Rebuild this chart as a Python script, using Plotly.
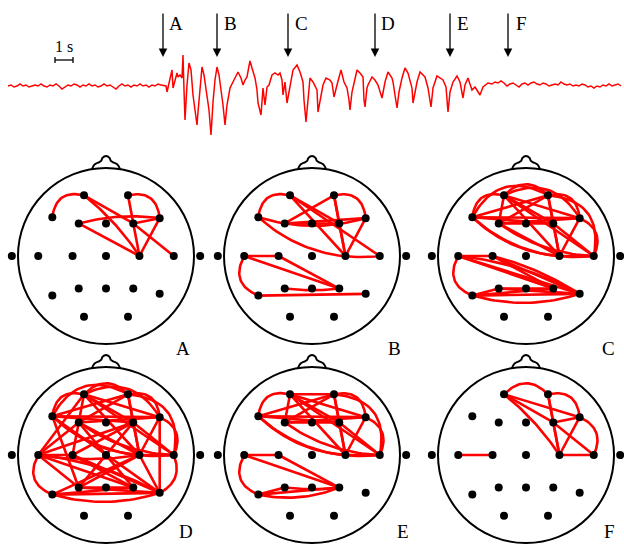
import re
import numpy as np
import plotly.graph_objects as go

# ---------------- DATA ----------------
FS = 18  # digitised samples per second of the EEG trace

eeg_n = [0, 3, 6, 9, 12, 15, 18, 21, 24, 27, 30, 33, 36, 39, 42, 45, 48, 51, 54, 57,
         60, 63, 66, 69, 72, 75, 78, 81, 84, 87, 90, 93, 96, 99, 102, 105, 108, 111, 114, 117,
         120, 123, 126, 129, 132, 135, 138, 141, 144, 147, 150, 153, 156,
         158, 159, 161, 164, 165, 166, 167, 169, 170, 172, 174, 175, 176, 177, 179, 181, 183, 185,
         187, 189, 190, 192, 194, 196, 199, 201, 203, 204, 205, 207, 209, 211, 214, 215, 217, 219,
         222, 225, 227, 230, 233, 235, 237, 239, 241, 242, 244, 247, 249, 250, 253, 254, 255, 257,
         259, 261, 264, 267, 270, 272, 274, 275, 277, 279, 282, 285, 289, 292, 295, 296, 298, 300,
         302, 305, 309, 310, 313, 315, 318, 322, 324, 326, 329, 333, 336, 339, 341, 342, 344, 349,
         352, 355, 356, 357, 359, 360, 364, 367, 370, 374, 377, 380, 384, 385, 387, 389, 391, 394,
         397, 400, 404, 405, 409, 412, 417, 420, 423, 425, 429, 432, 435, 438, 440, 442, 445, 449,
         452, 455, 457, 460, 464, 467, 472, 475, 480,
         484, 487, 490, 493, 496, 499, 502, 505, 508, 511, 514, 517, 520, 523, 526, 529, 532, 535,
         538, 541, 544, 547, 550, 553, 556, 559, 562, 565, 568, 571, 574, 577, 580, 583, 586, 589,
         592, 595, 598, 601, 604, 607, 610, 613]
eeg_amp = [0, 1, -1, 0, 2, 0, 1, -1, 0, 1, 0, 2, 0, -1, 1, 0, 2, 0, -3, -1,
           1, 0, 2, 1, -1, 1, 0, 2, 0, 1, -1, 0, 2, 0, 1, -1, -3, 0, 2, 0,
           1, -1, 1, 0, 2, 0, 1, -1, 1, 0, 2, 1, 0,
           0, -6, 2, 16, -2, 2, 6, 13, 9, 11, 8, 31, -4, -34, 1, 23, 16, -9,
           -24, -39, -26, 1, 19, 11, -12, -24, -49, -32, -16, 6, 19, 11, -9, -19, -39, -19,
           -2, 4, 8, 14, 8, 1, 6, 9, 20, 25, 18, 8, -4, -17, -29, -14, -2, -19,
           -1, 1, 11, 13, 11, 13, 6, -9, 4, -17, 1, 16, 21, 14, 4, -14, -36, -9,
           8, 4, -4, -26, -9, 1, 8, 6, 3, -11, 1, 16, 4, -2, -14, -24, -6, 16,
           13, 9, -14, -21, -2, 1, 9, 6, 1, -12, 4, 14, 8, 4, -9, -22, -6, 8,
           18, 13, -2, -17, 4, 14, 9, -2, -21, -2, 10, 8, 6, -1, -26, -6, 4, 10,
           4, -12, 1, 8, -4, -1, -9, -1, 3,
           2, 4, 3, 5, 3, 0, 2, 3, 1, -1, 2, 3, 1, 3, 4, 2, 1, 3,
           2, 0, 1, 2, 1, 4, 2, 1, 2, 0, 1, 0, 2, 1, -1, 0, -2, 0,
           -1, 1, 0, 2, 0, 1, 2, 0]

snapshot_n = [155, 209, 280, 367, 442, 500]
snapshot_labels = ["A", "B", "C", "D", "E", "F"]
scalebar_n = [47, 65]          # 1 s
scalebar_label = "1 s"

electrode_names = ["Fp1", "Fp2", "F7", "F3", "Fz", "F4", "F8", "A1", "T3", "C3", "Cz",
                   "C4", "T4", "A2", "T5", "P3", "Pz", "P4", "T6", "O1", "O2"]
electrode_x = [-0.25, 0.25, -0.61, -0.31, 0.0, 0.31, 0.61, -1.07, -0.77, -0.38, 0.0,
               0.38, 0.77, 1.07, -0.61, -0.31, 0.0, 0.31, 0.61, -0.25, 0.25]
electrode_y = [0.69, 0.69, 0.44, 0.37, 0.37, 0.37, 0.43, 0.0, 0.0, 0.0, 0.0,
               0.0, 0.0, 0.0, -0.45, -0.37, -0.37, -0.37, -0.43, -0.69, -0.69]

# "-" straight link, "~" curved link
edges_A = ["Fp1~F7", "Fp1-F4", "Fp1~C4", "F4-T4", "F3~F8", "F3-C4", "Fp2-C4", "Fp2~F8",
           "F4-F8", "F8-C4"]
edges_B = ["Fp1~F7", "Fp2~F8", "Fp1-F4", "Fp1-C4", "Fp1-T4", "F3-Fp2", "F3-F8", "F3-F4",
           "Fp2-C4", "Fp2-F4", "F4-C4", "F8-C4", "F7~T4", "F7~F8",
           "T3-C3", "T3-P4", "C3-P4", "T3~T5", "T5-T6", "P3~P4"]
edges_C = ["Fp1~F7", "Fp1~Fp2", "Fp2~F8", "F8~T4", "Fp2~T4", "F7~Fp2", "Fp1~F8", "Fp1-F8",
           "F7-Fp2", "Fp1-F4", "Fp2-F3", "Fp1-F3", "Fp2-F4", "F7-F8", "F7-F4", "F3-F8", "F3-F4",
           "Fp1-C4", "Fp2-C4", "F4-C4", "F8-C4", "F3-C4", "Fp1-T4", "F4-T4", "F7~C4", "F7~T4",
           "F3~T4", "C4-T4",
           "T3-C3", "T3~T5", "T3-P4", "T3~T6", "T3-T6", "C3-P4", "C3~T6", "C3-T6", "T5-T6",
           "T5~T6", "T5-P4", "P3-T6", "P3-P4", "T5-P3"]
edges_D = ["Fp1~F7", "Fp1~Fp2", "Fp2~F8", "F8~T4", "Fp2~T4", "F7~Fp2", "Fp1~F8", "Fp1-F8",
           "F7-Fp2", "Fp1-F4", "Fp2-F3", "Fp1-F3", "Fp2-F4", "F7-F8", "F7-F4", "F3-F8",
           "Fp1-C4", "Fp2-C4", "F4-C4", "F8-C4", "F3-C4", "Fp1-T4", "F4-T4", "F7~C4", "F7~T4",
           "F3~T4", "C4-T4", "T4~T6", "F8-T6", "C4-T6", "Fp1-T3", "T3-F3", "T3-F4", "F7-P3",
           "T3-C3", "T3~T5", "T3-P3", "T3-P4", "T3~T6", "T3~C4", "C3-P4", "C3-T6", "C3-F4",
           "F3-P4", "F4-P3", "C4-P3", "C4-T5", "F7-T6", "T5-T6", "T5~T6", "T5-P4", "P3-T6",
           "P3-P4", "F3-C3"]
edges_E = ["Fp1~F7", "Fp1-Fp2", "Fp2~F8", "F8~T4", "Fp2~T4", "Fp1-F8", "F7-Fp2", "Fp1-F4",
           "Fp2-F3", "Fp1-F3", "Fp2-F4", "F7-F8", "F7-F4", "F3-F8", "F3-F4", "Fp1-C4", "Fp2-C4",
           "F4-C4", "F8-C4", "Fp1-T4", "F4-T4", "F7~C4", "F7~T4", "F3~T4", "C4-T4",
           "T3-C3", "T3~T5", "T3-P4", "C3-P4", "T5-P3", "T5-P4", "T5~P4", "P3~P4"]
edges_F = ["Fp1~Fp2", "Fp1-F4", "Fp1-F8", "Fp1~C4", "Fp2-F4", "Fp2-C4", "Fp2~F8", "F8~T4",
           "F4-F8", "F4-T4", "F8-C4", "F4-C4", "C4-T4", "T3-C3"]
panel_edges = [edges_A, edges_B, edges_C, edges_D, edges_E, edges_F]
panel_labels = ["A", "B", "C", "D", "E", "F"]

# ---------------- STYLE / LAYOUT ----------------
W, H = 624, 554
RED = "#ff0000"
SERIF = "Liberation Serif, Times New Roman, serif"
# curvature of curved links (fraction of link length, + = away from head centre)
BEND = {"Fp1~F7": 0.55, "Fp2~F8": 0.55, "Fp1~Fp2": 0.5, "F8~T4": 0.5, "T3~T5": 0.55,
        "Fp2~T4": 0.55, "F7~Fp2": 0.5, "Fp1~F8": 0.45, "T4~T6": 0.45, "Fp1~C4": 0.08,
        "F3~F8": 0.1, "F7~C4": -0.18, "F7~T4": -0.22, "F3~T4": -0.15, "F7~F8": -0.15,
        "T5~T6": 0.15, "T5~P4": 0.15, "P3~P4": 0.06, "T3~T6": -0.1, "C3~T6": -0.08,
        "T3~C4": -0.08}
TRACE_TOP_PX, TRACE_BOT_PX, BASE_PX = 0, 145, 86
PX_PER_S = 18
T0_PX = 8
HEAD_R = 88
HEAD_CX = [106, 312, 526]
HEAD_CY = [256, 455]
XR = (-1.1, 1.1)
YR = (-1.1, 1.2)
LABEL_PX = [(174, 348), (394, 348), (617, 348), (177, 544), (403, 544), (617, 544)]
ARROW_TIP_PX, ARROW_TAIL_PX, ARROW_LABEL_PX = 57, 12, 23
SCALEBAR_PX, SCALEBAR_TEXT_PX = 60, 46
NOSE = [(-0.16, 0.987), (-0.13, 1.04), (-0.08, 1.065), (-0.055, 1.08), (-0.04, 1.115),
        (0.0, 1.136), (0.04, 1.115), (0.055, 1.08), (0.08, 1.065), (0.13, 1.04), (0.16, 0.987)]

fig = go.Figure()

# ---------- EEG trace ----------
t = np.array(eeg_n) / FS
amp = np.array(eeg_amp, dtype=float)
fig.add_trace(go.Scatter(x=t, y=amp, mode="lines", line=dict(color=RED, width=1.5),
                         hoverinfo="skip", xaxis="x", yaxis="y"))
fig.update_layout(
    xaxis=dict(domain=[0, 1], range=[(0 - T0_PX) / PX_PER_S, (W - T0_PX) / PX_PER_S],
               visible=False, fixedrange=True),
    yaxis=dict(domain=[1 - TRACE_BOT_PX / H, 1 - TRACE_TOP_PX / H],
               range=[BASE_PX - TRACE_BOT_PX, BASE_PX - TRACE_TOP_PX],
               visible=False, fixedrange=True),
)

def px2amp(py):
    return BASE_PX - py

for n, lab in zip(snapshot_n, snapshot_labels):
    ts = n / FS
    fig.add_annotation(x=ts, y=px2amp(ARROW_TIP_PX), ax=ts, ay=px2amp(ARROW_TAIL_PX),
                       xref="x", yref="y", axref="x", ayref="y", text="", showarrow=True,
                       arrowhead=2, arrowsize=1.3, arrowwidth=1.3, arrowcolor="black")
    fig.add_annotation(x=ts, y=px2amp(ARROW_LABEL_PX), xref="x", yref="y", text=lab,
                       showarrow=False, xshift=13, font=dict(family=SERIF, size=19, color="black"))

# scale bar
s0, s1 = scalebar_n[0] / FS, scalebar_n[1] / FS
yb = px2amp(SCALEBAR_PX)
fig.add_trace(go.Scatter(x=[s0, s0, None, s0, s1, None, s1, s1],
                         y=[yb - 3, yb + 3, None, yb, yb, None, yb - 3, yb + 3],
                         mode="lines", line=dict(color="black", width=1.3),
                         hoverinfo="skip", xaxis="x", yaxis="y"))
fig.add_annotation(x=(s0 + s1) / 2, y=px2amp(SCALEBAR_TEXT_PX), xref="x", yref="y",
                   text=scalebar_label, showarrow=False,
                   font=dict(family=SERIF, size=16, color="black"))

# ---------- heads ----------
pos = {n: np.array([x, y]) for n, x, y in zip(electrode_names, electrode_x, electrode_y)}

def link_points(spec):
    a, b = re.split(r"[-~]", spec)
    p, q = pos[a], pos[b]
    bend = BEND.get(spec, 0.0) if "~" in spec else 0.0
    mid = (p + q) / 2
    d = q - p
    L = np.hypot(*d)
    nrm = np.array([-d[1], d[0]]) / L
    s = nrm @ mid
    if s < 0 or (abs(s) < 1e-9 and nrm[1] < 0):
        nrm = -nrm
    c = mid + bend * L * nrm
    u = np.linspace(0, 1, 30)[:, None]
    pts = (1 - u) ** 2 * p + 2 * (1 - u) * u * c + u ** 2 * q
    return pts

for k, edges in enumerate(panel_edges):
    i = k + 2
    cx = HEAD_CX[k % 3]
    cy = HEAD_CY[k // 3]
    fig.layout[f"xaxis{i}"] = dict(
        domain=[(cx + XR[0] * HEAD_R) / W, (cx + XR[1] * HEAD_R) / W],
        range=list(XR), visible=False, anchor=f"y{i}", fixedrange=True)
    fig.layout[f"yaxis{i}"] = dict(
        domain=[1 - (cy - YR[0] * HEAD_R) / H, 1 - (cy - YR[1] * HEAD_R) / H],
        range=list(YR), visible=False, anchor=f"x{i}", fixedrange=True)
    fig.add_shape(type="circle", xref=f"x{i}", yref=f"y{i}", x0=-1, y0=-1, x1=1, y1=1,
                  line=dict(color="black", width=2))
    fig.add_trace(go.Scatter(x=[p[0] for p in NOSE], y=[p[1] for p in NOSE], mode="lines",
                             line=dict(color="black", width=2, shape="spline"),
                             hoverinfo="skip", xaxis=f"x{i}", yaxis=f"y{i}"))
    xs, ys = [], []
    for e in edges:
        pts = link_points(e)
        xs += list(pts[:, 0]) + [None]
        ys += list(pts[:, 1]) + [None]
    fig.add_trace(go.Scatter(x=xs, y=ys, mode="lines", line=dict(color=RED, width=2.6),
                             hoverinfo="skip", xaxis=f"x{i}", yaxis=f"y{i}"))
    fig.add_trace(go.Scatter(x=electrode_x, y=electrode_y, mode="markers",
                             marker=dict(color="black", size=8), cliponaxis=False,
                             hoverinfo="skip", xaxis=f"x{i}", yaxis=f"y{i}"))
    lx, ly = LABEL_PX[k]
    fig.add_annotation(x=lx / W, y=1 - ly / H, xref="paper", yref="paper",
                       text=panel_labels[k], showarrow=False,
                       font=dict(family=SERIF, size=19, color="black"))

fig.update_layout(width=W, height=H, margin=dict(l=0, r=0, t=0, b=0),
                  paper_bgcolor="white", plot_bgcolor="rgba(0,0,0,0)", showlegend=False)
fig.write_html("out.html")
